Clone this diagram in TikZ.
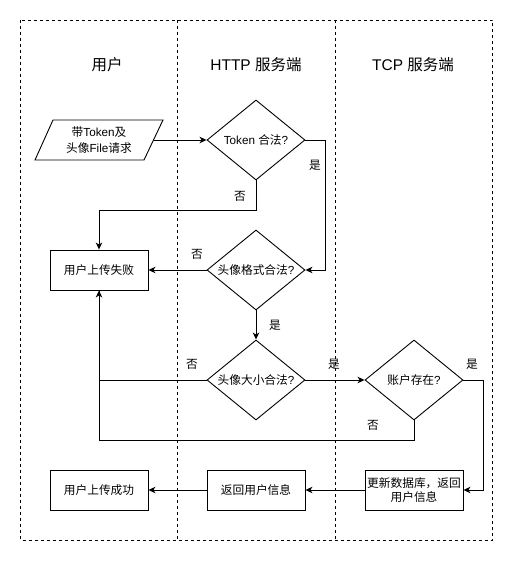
\documentclass[tikz,border=0pt]{standalone}
\usepackage{fontspec}
\setmainfont{Liberation Sans}
\newfontfamily\cjk{Noto Sans CJK SC}
\usetikzlibrary{arrows.meta,shapes.geometric}
\begin{document}
\begin{tikzpicture}[x=1pt,y=-1pt,
  lane/.style={draw,line width=0.8pt,dash pattern=on 3pt off 3pt},
  hdr/.style={font=\fontsize{15.5}{18}\selectfont},
  txt/.style={font=\fontsize{11.7}{15.5}\selectfont,align=center},
  box/.style={draw,line width=0.9pt,minimum width=98pt,minimum height=40pt,inner sep=0pt,txt},
  dia/.style={draw,line width=0.9pt,shape=diamond,minimum width=98pt,minimum height=80pt,inner sep=0pt},
  lbl/.style={font=\fontsize{11.7}{14}\selectfont\cjk},
  arr/.style={line width=0.9pt,-{Stealth[length=7pt,width=6.5pt,inset=2pt]}},
  ln/.style={line width=0.9pt}]
\useasboundingbox (0,0) rectangle (531,561);

% swimlanes
\draw[lane] (20.5,20) rectangle (492.5,540);
\draw[lane] (177.5,20) -- (177.5,540);
\draw[lane] (335,20) -- (335,540);
\node[hdr] (h1) at (107,65) {{\cjk 用户}};
\node[hdr] (h2) at (256,65) {HTTP {\cjk 服务端}};
\node[hdr] (h3) at (413,65) {TCP {\cjk 服务端}};

% request (parallelogram)
\node[txt] (req) at (99,140) {{\cjk 带}Token{\cjk 及}\\{\cjk 头像}File{\cjk 请求}};
\draw[ln] (53,120) -- (163,120) -- (144,160) -- (35,160) -- cycle;
\coordinate (reqe) at (154,140);

% decisions
\node[dia,label={[txt]center:Token {\cjk 合法}?}] (d1) at (256,140) {};
\node[dia,label={[txt]center:{\cjk 头像格式合法}?}] (d2) at (256,270) {};
\node[dia,label={[txt]center:{\cjk 头像大小合法}?}] (d3) at (256,380) {};
\node[dia,label={[txt]center:{\cjk 账户存在}?}] (d4) at (414,380) {};

% process boxes
\node[box] (fail) at (99,270) {{\cjk 用户上传失败}};
\node[box] (succ) at (99,490) {{\cjk 用户上传成功}};
\node[box] (ret) at (256,490) {{\cjk 返回用户信息}};
\node[box] (upd) at (414,490) {{\cjk 更新数据库，返回}\\[-1pt]{\cjk 用户信息}};

% connectors
\draw[arr] (reqe) -- (d1.west);
\draw[arr] (d1.east) -- ++(20,0) |- (d2.east);
\draw[arr] (d1.south) -- ++(0,30) -| (fail.north);
\draw[arr] (d2.west) -- (fail.east);
\draw[arr] (d2.south) -- (d3.north);
\draw[arr] (d3.west) -| (fail.south);
\draw[arr] (d3.east) -- (d4.west);
\draw[arr] (d4.east) -- ++(20,0) |- (upd.east);
\draw[ln] (d4.south) -- ++(0,20) -| (fail.south);
\draw[arr] (upd.west) -- (ret.east);
\draw[arr] (ret.west) -- (succ.east);

% branch labels
\node[lbl] (y1) at (315,165) {是};
\node[lbl] (n1) at (240,196) {否};
\node[lbl] (n2) at (197,254) {否};
\node[lbl] (y2) at (275,325) {是};
\node[lbl] (n3) at (192,364) {否};
\node[lbl] (y3) at (334,364) {是};
\node[lbl] (y4) at (472,364) {是};
\node[lbl] (n4) at (373,425) {否};
\end{tikzpicture}
\end{document}
